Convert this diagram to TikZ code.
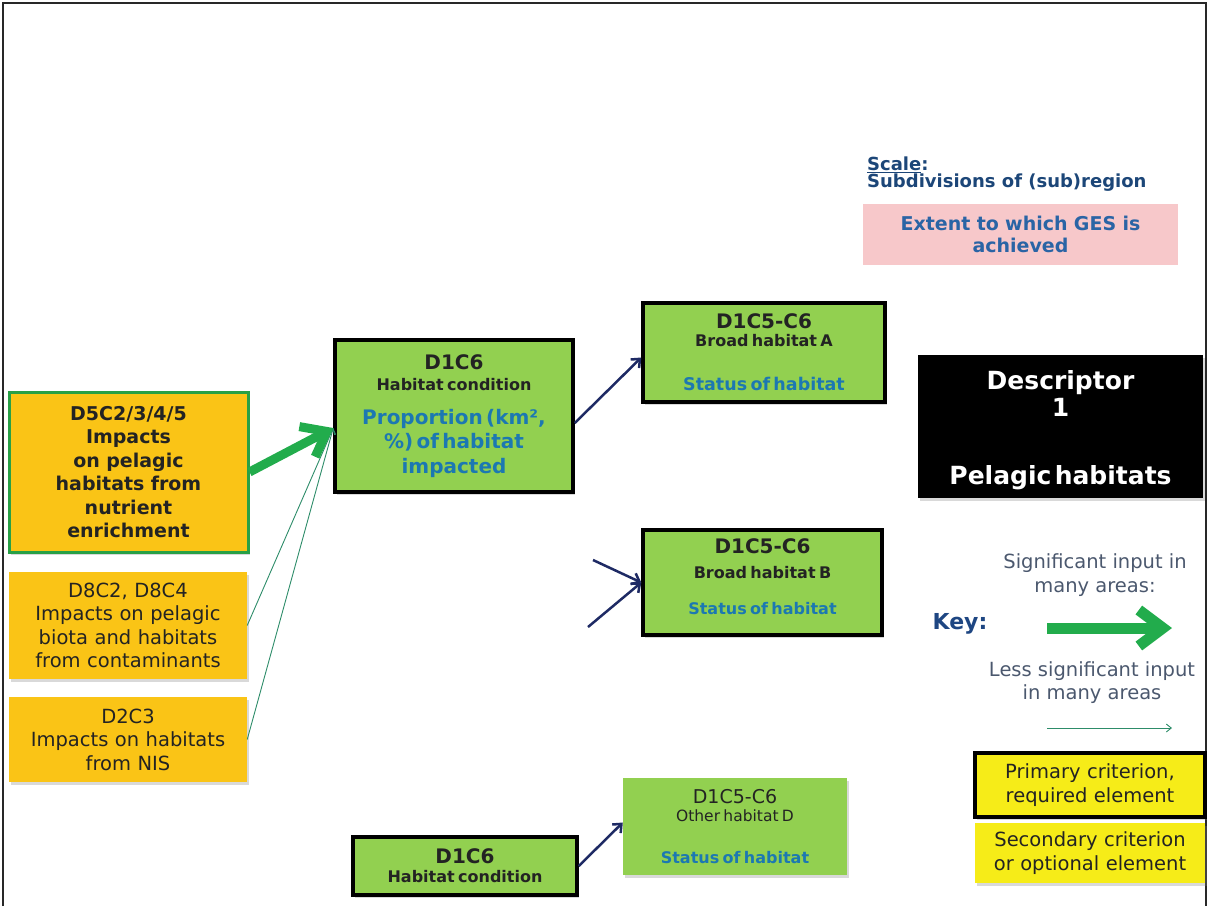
\documentclass[tikz,border=0pt]{standalone}
\usepackage{fontspec}
\setmainfont{DejaVu Sans}
\usetikzlibrary{arrows.meta,shadows}

\definecolor{orangefill}{RGB}{250,196,22}
\definecolor{greenfill}{RGB}{146,208,80}
\definecolor{greenedge}{RGB}{40,160,70}
\definecolor{arrowgreen}{RGB}{34,172,76}
\definecolor{thingreen}{RGB}{45,140,105}
\definecolor{navyline}{RGB}{30,42,100}
\definecolor{statusblue}{RGB}{28,120,178}
\definecolor{pinkfill}{RGB}{247,200,202}
\definecolor{pinktext}{RGB}{42,100,165}
\definecolor{scaleblue}{RGB}{28,70,120}
\definecolor{keygray}{RGB}{75,88,110}
\definecolor{keyblue}{RGB}{30,70,130}
\definecolor{legyellow}{RGB}{246,236,24}
\definecolor{darktext}{RGB}{35,35,35}
\definecolor{framecol}{RGB}{40,40,40}

% font presets (1pt = 1px of the final image)
\newcommand\fcode{\fontsize{20}{24}\selectfont\bfseries}
\newcommand\freg{\fontsize{19.5}{23.5}\selectfont}
\newcommand\fbold{\fontsize{19}{23.5}\selectfont\bfseries}

\begin{document}
\begin{tikzpicture}[x=1pt,y=-1pt,
  shadowed/.style={drop shadow={opacity=0.3,shadow xshift=2pt,shadow yshift=-2.5pt}},
  boxbase/.style={rectangle,inner sep=0pt,align=center,text=darktext,shadowed},
  orangebox/.style={boxbase,fill=orangefill},
  greenbox/.style={boxbase,fill=greenfill},
  primary/.style={draw=black,line width=3.5pt},
  keytext/.style={inner sep=0pt,align=center,font=\freg,text=keygray},
  bigarrow/.style={draw=arrowgreen,line width=9pt,-{Straight Barb[length=22pt,width=34pt]}},
  thinarrow/.style={draw=thingreen,line width=0.9pt,-{Straight Barb[length=5pt,width=8pt]}},
  navyarrow/.style={draw=navyline,line width=2.5pt,-{Straight Barb[length=7pt,width=12pt]}},
]
\useasboundingbox (0,0) rectangle (1209,906);

% outer frame
\draw[framecol,line width=2.5pt] (3,906) -- (3,3) -- (1206,3) -- (1206,906);

% scale and GES
\node[anchor=north west,align=left,inner sep=0pt,text=scaleblue,
      font=\fontsize{18}{17}\selectfont\bfseries] (scale) at (867,157)
  {\underline{Scale}:\\Subdivisions of (sub)region};
\node[rectangle,fill=pinkfill,minimum width=315pt,minimum height=61pt,inner sep=0pt,
      text width=305pt,align=center,text=pinktext,
      font=\fontsize{19}{22}\selectfont\bfseries] (ges) at (1020.5,234.5)
  {Extent to which GES is\\achieved};

% descriptor title
\node[rectangle,fill=black,minimum width=285pt,minimum height=143pt,inner sep=0pt,
      text width=275pt,align=center,text=white,shadowed] (desc) at (1060.5,426.5)
  {{\fontsize{25}{27}\selectfont\bfseries\rule{0pt}{26pt}Descriptor\\1\par}\vspace{41pt}%
   {\fontsize{25}{27}\selectfont\bfseries Pelagic habitats\par}};

% pressure criteria
\node[orangebox,draw=greenedge,line width=3pt,minimum width=239pt,minimum height=160pt,
      text width=230pt,font=\fbold] (imp5) at (128.5,472)
  {D5C2/3/4/5\\Impacts\\on pelagic\\habitats from\\nutrient\\enrichment};
\node[orangebox,minimum width=238pt,minimum height=107pt,text width=232pt,font=\freg]
  (imp8) at (128,625.5)
  {D8C2, D8C4\\Impacts on pelagic\\biota and habitats\\from contaminants};
\node[orangebox,minimum width=238pt,minimum height=85pt,text width=232pt,font=\freg]
  (imp2) at (128,739.5)
  {D2C3\\Impacts on habitats\\from NIS};

% habitat condition
\node[greenbox,primary,minimum width=238pt,minimum height=152pt,text width=230pt]
  (cond) at (454,416)
  {{\fcode D1C6\par}{\fontsize{16}{21}\selectfont\bfseries Habitat condition\par}\vspace{9pt}%
   {\fontsize{20}{24.5}\selectfont\bfseries\color{statusblue}Proportion (km²,\\\%) of habitat\\impacted\par}};

% habitat status boxes
\node[greenbox,primary,minimum width=242pt,minimum height=99pt,text width=234pt]
  (habA) at (764,352.5)
  {{\fcode D1C5-C6\par}{\fontsize{16}{18}\selectfont\bfseries Broad habitat A\par}\vspace{23pt}%
   {\fontsize{17.5}{21}\selectfont\bfseries\color{statusblue}Status of habitat\par}};
\node[greenbox,primary,minimum width=239pt,minimum height=105pt,text width=231pt]
  (habB) at (762.5,582.5)
  {{\fcode D1C5-C6\par}{\fontsize{16}{25}\selectfont\bfseries Broad habitat B\par}\vspace{15pt}%
   {\fontsize{16}{21}\selectfont\bfseries\color{statusblue}Status of habitat\par}\vspace*{11pt}};
\node[greenbox,minimum width=224pt,minimum height=97pt,text width=216pt]
  (habD) at (735,826.5)
  {{\fontsize{19}{23}\selectfont D1C5-C6\par}{\fontsize{15.5}{18}\selectfont Other habitat D\par}\vspace{21pt}%
   {\fontsize{16}{21}\selectfont\bfseries\color{statusblue}Status of habitat\par}};
\node[greenbox,primary,minimum width=224pt,minimum height=58pt,text width=216pt]
  (condB) at (465,866)
  {{\fcode D1C6\par}{\fontsize{16}{19}\selectfont\bfseries Habitat condition\par}};

% connectors
\draw[thinarrow] (imp8.east) -- ([yshift=-12pt]cond.west);
\draw[thinarrow] (imp2.east) -- ([yshift=-12pt]cond.west);
\draw[bigarrow] (imp5.east) -- ([yshift=-12pt]cond.west);
\draw[navyarrow] ([yshift=-7pt]cond.east) -- ([yshift=-5pt]habA.west);
\coordinate (inB1) at (593,560);
\coordinate (inB2) at (588,627);
\draw[navyarrow] (inB1) -- (habB.west);
\draw[navyarrow] (inB2) -- (habB.west);
\draw[navyarrow] (condB.east) -- ([yshift=4pt]habD.west);

% key
\node[inner sep=0pt,font=\fontsize{22}{24}\selectfont\bfseries,text=keyblue] (key) at (960,624) {Key:};
\node[keytext] (sig) at (1095,575) {Significant input in\\many areas:};
\coordinate (k1s) at (1047,628);
\coordinate (k1e) at (1172,628);
\draw[draw=arrowgreen,line width=11pt,-{Straight Barb[length=24pt,width=36pt]}] (k1s) -- (k1e);
\node[keytext] (less) at (1092,682.5) {Less significant input\\in many areas};
\coordinate (k2s) at (1047,728);
\coordinate (k2e) at (1172,728);
\draw[thinarrow] (k2s) -- (k2e);

\node[boxbase,fill=legyellow,primary,minimum width=230pt,minimum height=64pt,text width=222pt,font=\freg]
  (prim) at (1090,785) {Primary criterion,\\required element};
\node[boxbase,fill=legyellow,minimum width=230pt,minimum height=60pt,text width=222pt,font=\freg]
  (sec) at (1090,853) {Secondary criterion\\or optional element};
\end{tikzpicture}
\end{document}
